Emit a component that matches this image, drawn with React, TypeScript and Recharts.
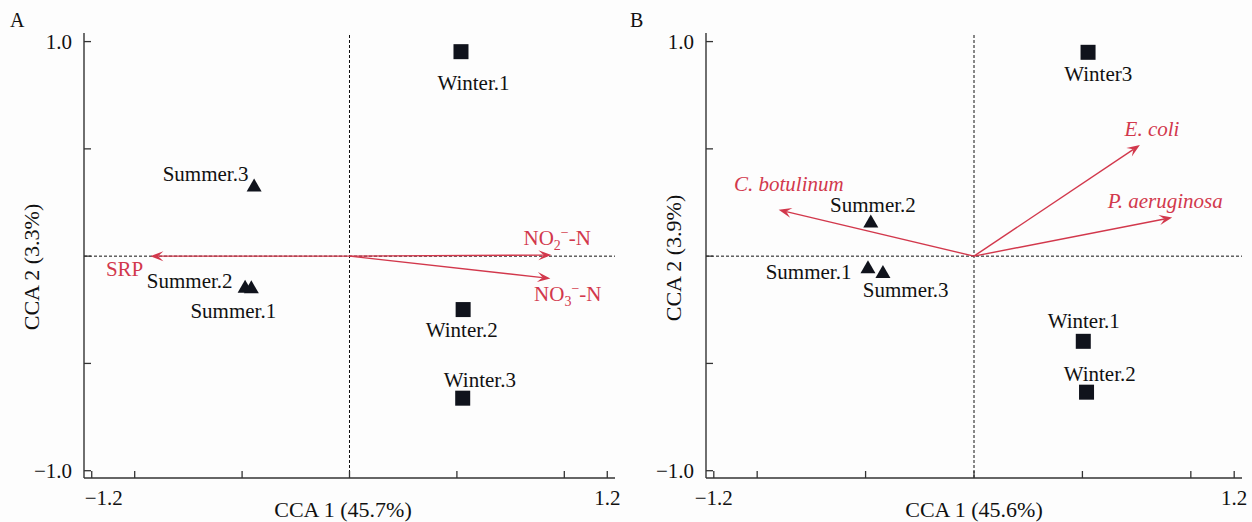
import React from "react";
import { ScatterChart, Scatter, XAxis, YAxis, ReferenceLine } from "recharts";

const serif = "'Liberation Serif', 'Times New Roman', serif";
const RED = "#d2384c";
const INK = "#10131c";

// ---- panel A: environment factors ----
const aWinter = [
  { x: 0.519, y: 0.953 },
  { x: 0.529, y: -0.249 },
  { x: 0.527, y: -0.662 },
];
const aSummer = [
  { x: -0.457, y: -0.15 },
  { x: -0.486, y: -0.147 },
  { x: -0.444, y: 0.325 },
];
const aArrows = [
  { name: "SRP", x: -0.927, y: 0 },
  { name: "NO2", x: 0.94, y: 0.005 },
  { name: "NO3", x: 0.935, y: -0.104 },
];
const aLabels = [
  { text: "Winter.1", x: 0.577, y: 0.807, kind: "site" },
  { text: "Winter.2", x: 0.523, y: -0.342, kind: "site" },
  { text: "Winter.3", x: 0.607, y: -0.576, kind: "site" },
  { text: "Summer.3", x: -0.67, y: 0.383, kind: "site" },
  { text: "Summer.2", x: -0.744, y: -0.116, kind: "site" },
  { text: "Summer.1", x: -0.541, y: -0.257, kind: "site" },
  { text: "SRP", x: -1.047, y: -0.061, kind: "env" },
  { text: "NO2", x: 0.967, y: 0.086, kind: "ion" },
  { text: "NO3", x: 1.016, y: -0.177, kind: "ion" },
];

// ---- panel B: pathogens ----
const bWinter = [
  { x: 0.504, y: -0.397 },
  { x: 0.519, y: -0.634 },
  { x: 0.526, y: 0.95 },
];
const bSummer = [
  { x: -0.489, y: -0.057 },
  { x: -0.476, y: 0.157 },
  { x: -0.42, y: -0.079 },
];
const bArrows = [
  { name: "C. botulinum", x: -0.901, y: 0.216 },
  { name: "E. coli", x: 0.765, y: 0.518 },
  { name: "P. aeruginosa", x: 0.914, y: 0.18 },
];
const bLabels = [
  { text: "Winter3", x: 0.573, y: 0.847, kind: "site" },
  { text: "Winter.1", x: 0.506, y: -0.304, kind: "site" },
  { text: "Winter.2", x: 0.58, y: -0.549, kind: "site" },
  { text: "Summer.2", x: -0.466, y: 0.239, kind: "site" },
  { text: "Summer.1", x: -0.763, y: -0.076, kind: "site" },
  { text: "Summer.3", x: -0.315, y: -0.158, kind: "site" },
  { text: "E. coli", x: 0.821, y: 0.594, kind: "species" },
  { text: "C. botulinum", x: -0.854, y: 0.335, kind: "species" },
  { text: "P. aeruginosa", x: 0.882, y: 0.257, kind: "species" },
];

const xTicks = [-1.2, -1, -0.5, 0, 0.5, 1, 1.2];
const yTicks = [-1, -0.5, 0, 0.5, 1];
const xDomain = [-1.236, 1.236];
const yDomain = [-1.034, 1.04];

const fmt = (v: number) => (v < 0 ? "\u2212" : "") + Math.abs(v).toFixed(1);

const txt = (size: number, italic = false, color = "#111") => ({
  fontFamily: serif,
  fontSize: size,
  fontStyle: italic ? "italic" : "normal",
  fill: color,
});

const Square = (p: any) => (
  <rect x={p.cx - 7.5} y={p.cy - 7.5} width={15} height={15} fill={INK} />
);

const Triangle = (p: any) => (
  <polygon
    points={`${p.cx},${p.cy - 8} ${p.cx - 7.5},${p.cy + 5} ${p.cx + 7.5},${p.cy + 5}`}
    fill={INK}
  />
);

const Arrow = (p: any) => {
  const { x1, y1, x2, y2 } = p;
  const a = Math.atan2(y2 - y1, x2 - x1);
  const L = 13;
  const W = 5;
  const bx = x2 - L * Math.cos(a);
  const by = y2 - L * Math.sin(a);
  const nx = -Math.sin(a);
  const ny = Math.cos(a);
  const mx = x2 - L * 0.6 * Math.cos(a);
  const my = y2 - L * 0.6 * Math.sin(a);
  return (
    <g>
      <line x1={x1} y1={y1} x2={mx} y2={my} stroke={RED} strokeWidth={1.4} />
      <polygon
        points={`${x2},${y2} ${bx + nx * W},${by + ny * W} ${mx},${my} ${bx - nx * W},${by - ny * W}`}
        fill={RED}
      />
    </g>
  );
};

const ionText = (sub: string) => (
  <>
    <tspan>NO</tspan>
    <tspan style={{ fontSize: 14 }} dy={5}>
      {sub}
    </tspan>
    <tspan style={{ fontSize: 14 }} dy={-13}>
      {"\u2212"}
    </tspan>
    <tspan dy={8}>-N</tspan>
  </>
);

const LabelShape = (p: any) => {
  const d = p.payload;
  const red = d.kind !== "site";
  const st = txt(21, d.kind === "species", red ? RED : "#111");
  return (
    <text x={p.cx} y={p.cy + 7} textAnchor="middle" fontFamily={serif} style={st}>
      {d.kind === "ion" ? (
        ionText(d.text === "NO2" ? "2" : "3")
      ) : (
        <tspan fontFamily={serif} style={st}>
          {d.text}
        </tspan>
      )}
    </text>
  );
};

function Panel(props: {
  left: number;
  width: number;
  yAxisWidth: number;
  right: number;
  letter: string;
  xTitle: string;
  yTitle: string;
  xTitleX: number;
  yTitleX: number;
  yTitleY: number;
  minusDx: number;
  winter: any[];
  summer: any[];
  arrows: any[];
  labels: any[];
}) {
  const XTick = (t: any) => {
    const v = t.payload.value;
    const show = Math.abs(v) === 1.2;
    return (
      <g>
        <line x1={t.x} y1={t.y} x2={t.x} y2={t.y - 7} stroke="#333" strokeWidth={1.3} />
        {show && (
          <text
            x={t.x + (v < 0 ? props.minusDx : 0)}
            y={t.y + 27}
            textAnchor="middle"
            style={txt(21)}
          >
            {fmt(v)}
          </text>
        )}
      </g>
    );
  };
  const YTick = (t: any) => {
    const v = t.payload.value;
    const show = Math.abs(v) === 1;
    return (
      <g>
        <line x1={t.x} y1={t.y} x2={t.x + 7} y2={t.y} stroke="#333" strokeWidth={1.3} />
        {show && (
          <text x={t.x - 12} y={t.y + 7} textAnchor="end" style={txt(21)}>
            {fmt(v)}
          </text>
        )}
      </g>
    );
  };
  return (
    <div style={{ position: "absolute", left: props.left, top: 0, width: props.width, height: 522 }}>
      <div
        style={{
          position: "absolute",
          left: 10,
          top: 9,
          fontFamily: serif,
          fontSize: 20,
          color: "#111",
        }}
      >
        {props.letter}
      </div>
      <ScatterChart
        width={props.width}
        height={522}
        margin={{ top: 33, right: props.right, left: 0, bottom: 0 }}
        style={{ fontFamily: serif }}
      >
        <XAxis
          type="number"
          dataKey="x"
          domain={xDomain}
          ticks={xTicks}
          interval={0}
          tickSize={0}
          tickMargin={0}
          height={44}
          axisLine={{ stroke: "#333", strokeWidth: 1.4 }}
          tickLine={false}
          tick={XTick}
          label={() => (
            <text x={props.xTitleX} y={517} textAnchor="middle" style={txt(22)}>
              {props.xTitle}
            </text>
          )}
        />
        <YAxis
          type="number"
          dataKey="y"
          domain={yDomain}
          ticks={yTicks}
          interval={0}
          tickSize={0}
          tickMargin={0}
          width={props.yAxisWidth}
          axisLine={{ stroke: "#333", strokeWidth: 1.4 }}
          tickLine={false}
          tick={YTick}
          label={() => (
            <text
              x={props.yTitleX}
              y={props.yTitleY}
              transform={`rotate(-90 ${props.yTitleX} ${props.yTitleY})`}
              textAnchor="middle"
              dominantBaseline="central"
              style={txt(22)}
            >
              {props.yTitle}
            </text>
          )}
        />
        <ReferenceLine x={0} stroke="#111" strokeWidth={1} strokeDasharray="3 2" />
        <ReferenceLine y={0} stroke="#111" strokeWidth={1} strokeDasharray="3 2" />
        {props.arrows.map((a) => (
          <ReferenceLine
            key={a.name}
            segment={[
              { x: 0, y: 0 },
              { x: a.x, y: a.y },
            ]}
            shape={Arrow}
          />
        ))}
        <Scatter data={props.winter} shape={Square} isAnimationActive={false} />
        <Scatter data={props.summer} shape={Triangle} isAnimationActive={false} />
        <Scatter data={props.labels} shape={LabelShape} isAnimationActive={false} />
      </ScatterChart>
    </div>
  );
}

export default function App() {
  return (
    <div
      style={{
        position: "absolute",
        left: 0,
        top: 0,
        width: 1252,
        height: 522,
        background: "#fdfdfd",
      }}
    >
      <Panel
        left={0}
        width={620}
        yAxisWidth={84}
        right={5}
        letter="A"
        xTitle="CCA 1 (45.7%)"
        yTitle="CCA 2 (3.3%)"
        xTitleX={343}
        yTitleX={31}
        yTitleY={267}
        minusDx={12}
        winter={aWinter}
        summer={aSummer}
        arrows={aArrows}
        labels={aLabels}
      />
      <Panel
        left={620}
        width={632}
        yAxisWidth={86}
        right={10}
        letter="B"
        xTitle="CCA 1 (45.6%)"
        yTitle="CCA 2 (3.9%)"
        xTitleX={354}
        yTitleX={53}
        yTitleY={258}
        minusDx={0}
        winter={bWinter}
        summer={bSummer}
        arrows={bArrows}
        labels={bLabels}
      />
    </div>
  );
}
